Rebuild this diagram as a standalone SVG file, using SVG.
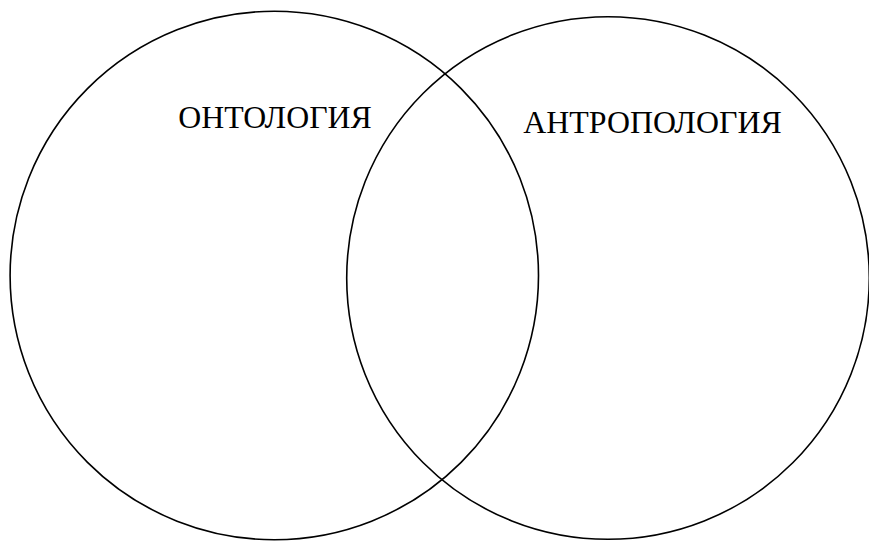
<svg xmlns="http://www.w3.org/2000/svg" width="869" height="541" viewBox="0 0 869 541">
<style>
.c{fill:none;stroke:#000;stroke-width:1.6}
.t{font-family:"Liberation Serif","Times New Roman",serif;font-size:31.5px;fill:#000}
</style>
<rect width="869" height="541" fill="#fff"/>
<g id="ontology">
<circle class="c" cx="274.3" cy="275.5" r="264.2"/>
<text class="t" x="178.3" y="127.7" textLength="193.4" lengthAdjust="spacingAndGlyphs">ОНТОЛОГИЯ</text>
</g>
<g id="anthropology">
<circle class="c" cx="608" cy="278" r="261.3"/>
<text class="t" x="523.3" y="132.7" textLength="258.4" lengthAdjust="spacingAndGlyphs">АНТРОПОЛОГИЯ</text>
</g>
<g id="connectors"></g>
</svg>
